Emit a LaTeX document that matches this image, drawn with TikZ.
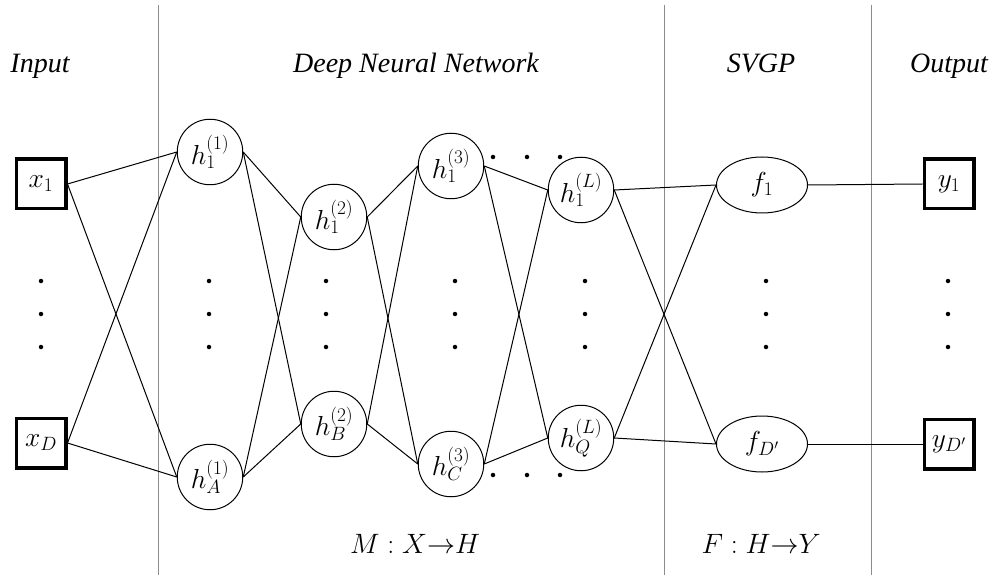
\documentclass[tikz,border=0pt]{standalone}
\usepackage{fix-cm}
\usepackage{fontspec}
\newfontfamily\headfont{Liberation Serif}
\usetikzlibrary{shapes.geometric}
\begin{document}
\begin{tikzpicture}[x=1pt,y=-1pt,
  conn/.style={line width=1pt},
  sepline/.style={line width=0.8pt, black!45},
  iobox/.style={draw, line width=3.4pt, minimum size=49.6pt, inner sep=0pt, font=\fontsize{27.5}{32}\selectfont},
  neuron/.style={draw, circle, line width=1pt, minimum size=65.5pt, inner sep=0pt, font=\fontsize{27.5}{32}\selectfont},
  gpnode/.style={draw, ellipse, line width=1pt, minimum width=91pt, minimum height=56pt, inner sep=0pt, font=\fontsize{27.5}{32}\selectfont},
  head/.style={anchor=base, font=\headfont\itshape\fontsize{28}{32}\selectfont},
  maplabel/.style={anchor=base, font=\fontsize{28}{32}\selectfont},
  dotmark/.style={circle, fill, inner sep=0pt, minimum size=4.5pt}
]
\useasboundingbox (0,0) rectangle (995,577);

% separators
\coordinate (s1t) at (158,5); \coordinate (s1b) at (158,575);
\coordinate (s2t) at (664,5); \coordinate (s2b) at (664,575);
\coordinate (s3t) at (871,5); \coordinate (s3b) at (871,575);
\draw[sepline] (s1t) -- (s1b);
\draw[sepline] (s2t) -- (s2b);
\draw[sepline] (s3t) -- (s3b);

% headers
\node[head] (hin) at (40,73) {Input};
\node[head] (hdnn) at (416,73) {Deep Neural Network};
\node[head] (hgp) at (761,73) {SVGP};
\node[head] (hout) at (949,73) {Output};

% input
\node[iobox] (x1) at (41,184) {$x_1$};
\node[iobox] (xD) at (41,443) {$x_D$};

% layers
\node[neuron] (h11) at (210,152) {$h_1^{(1)}$};
\node[neuron] (hA1) at (210,477) {$h_A^{(1)}$};
\node[neuron] (h12) at (334,217) {$h_1^{(2)}$};
\node[neuron] (hB2) at (334,424) {$h_B^{(2)}$};
\node[neuron] (h13) at (451,166) {$h_1^{(3)}$};
\node[neuron] (hC3) at (451,464) {$h_C^{(3)}$};
\node[neuron] (h1L) at (581,190) {$h_1^{(L)}$};
\node[neuron] (hQL) at (581,438) {$h_Q^{(L)}$};

% SVGP
\node[gpnode] (f1) at (762,185) {$f_1$};
\node[gpnode] (fD) at (762,444) {$f_{D'}$};

% outputs
\node[iobox] (y1) at (949,184) {$y_1$};
\node[iobox] (yD) at (949,444) {$y_{D'}$};

% connections
\draw[conn] (x1.east) -- (h11.west);
\draw[conn] (x1.east) -- (hA1.west);
\draw[conn] (xD.east) -- (h11.west);
\draw[conn] (xD.east) -- (hA1.west);

\draw[conn] (h11.east) -- (h12.west);
\draw[conn] (h11.east) -- (hB2.west);
\draw[conn] (hA1.east) -- (h12.west);
\draw[conn] (hA1.east) -- (hB2.west);

\draw[conn] (h12.east) -- (h13.west);
\draw[conn] (h12.east) -- (hC3.west);
\draw[conn] (hB2.east) -- (h13.west);
\draw[conn] (hB2.east) -- (hC3.west);

\draw[conn] (h13.east) -- (h1L.west);
\draw[conn] (h13.east) -- (hQL.west);
\draw[conn] (hC3.east) -- (h1L.west);
\draw[conn] (hC3.east) -- (hQL.west);

\draw[conn] (h1L.east) -- (f1.west);
\draw[conn] (h1L.east) -- (fD.west);
\draw[conn] (hQL.east) -- (f1.west);
\draw[conn] (hQL.east) -- (fD.west);

\draw[conn] (f1.east) -- (y1.west);
\draw[conn] (fD.east) -- (yD.west);

% vertical dots
\foreach \xx/\nm in {41/a,209/b,326/c,455/d,585/e,766/f,948/g}{
  \node[dotmark] (v\nm1) at (\xx,281) {};
  \node[dotmark] (v\nm2) at (\xx,314) {};
  \node[dotmark] (v\nm3) at (\xx,347) {};
}
% horizontal dots
\foreach \xx/\nm in {493/a,527/b,560/c}{
  \node[dotmark] (t\nm) at (\xx,157) {};
  \node[dotmark] (b\nm) at (\xx,475) {};
}

% mapping labels
\node[maplabel] (mlab) at (415,553) {$M : X{\rightarrow}H$};
\node[maplabel] (flab) at (761,553) {$F : H{\rightarrow}Y$};
\end{tikzpicture}
\end{document}
